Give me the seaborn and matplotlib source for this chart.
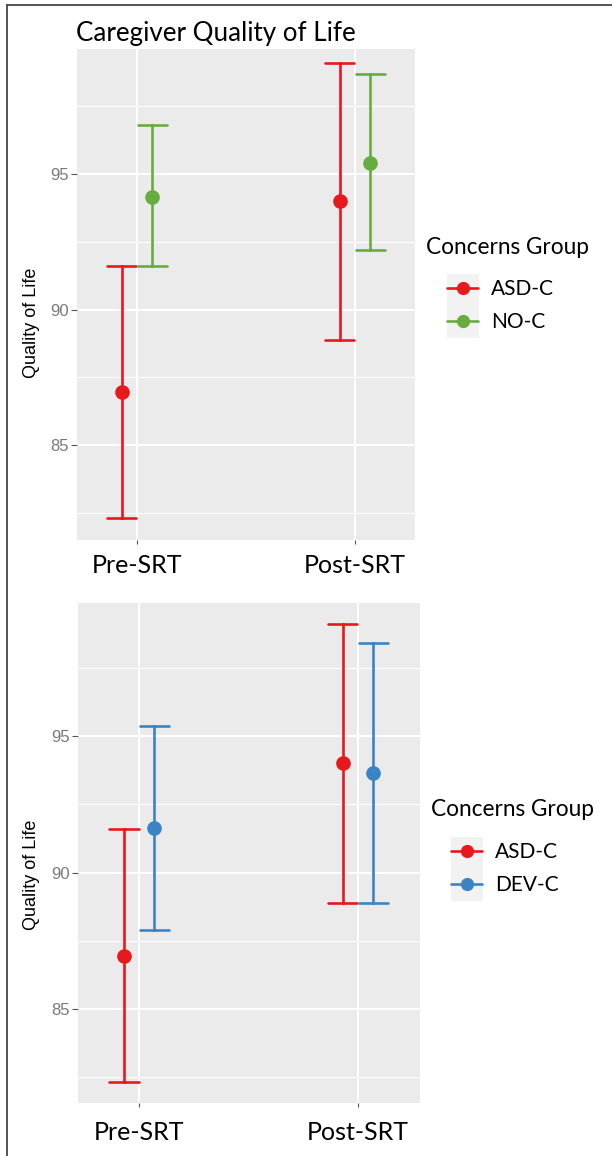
import numpy as np
import pandas as pd
import matplotlib
matplotlib.use("Agg")
import matplotlib.pyplot as plt
from matplotlib.lines import Line2D
from matplotlib.patches import Rectangle
import seaborn as sns

# ---------------- data ----------------
times = ["Pre-SRT", "Post-SRT"]

asd_mean = [86.95, 94.0]
asd_lo = [82.33, 88.87]
asd_hi = [91.6, 99.1]

noc_mean = [94.17, 95.43]
noc_lo = [91.6, 92.2]
noc_hi = [96.8, 98.68]

devc_mean = [91.62, 93.66]
devc_lo = [87.89, 88.87]
devc_hi = [95.37, 98.42]

groups_top = ["ASD-C", "NO-C"]
groups_bottom = ["ASD-C", "DEV-C"]
colors_top = ["#E8191C", "#67AC3F"]
colors_bottom = ["#E8191C", "#3B84C4"]
yticks = [85, 90, 95]

title = "Caregiver Quality of Life"
ylabel = "Quality of Life"
legend_title = "Concerns Group"


def long_table(groups, means, los, his):
    rows = []
    for g, m, lo, hi in zip(groups, means, los, his):
        for t, a, b, c in zip(times, lo, m, hi):
            for v in (a, b, c):
                rows.append({"time": t, "group": g, "qol": v})
    return pd.DataFrame(rows)


df_top = long_table(groups_top, [asd_mean, noc_mean], [asd_lo, noc_lo], [asd_hi, noc_hi])
df_bot = long_table(groups_bottom, [asd_mean, devc_mean], [asd_lo, devc_lo], [asd_hi, devc_hi])

# ---------------- style ----------------
sns.set_theme(style="darkgrid", rc={
    "axes.facecolor": "#EBEBEB",
    "grid.color": "white",
    "axes.edgecolor": "#EBEBEB",
    "text.color": "black",
})
plt.rcParams["font.family"] = ["Lato", "DejaVu Sans"]

W, H = 612, 1156
fig = plt.figure(figsize=(W / 100, H / 100), dpi=100)


def fx(px):
    return px / W


def fy(py):
    return 1 - py / H


def panel(df, groups, colors, rect, ylim, xlim, xlab_pad, ylab_y, leg):
    l, t, r, b = rect
    ax = fig.add_axes([fx(l), fy(b), fx(r) - fx(l), fy(t) - fy(b)])
    sns.pointplot(data=df, x="time", y="qol", hue="group", order=times,
                  hue_order=groups, palette=colors, estimator="median",
                  errorbar=lambda v: (v.min(), v.max()), dodge=0.138,
                  capsize=0.133, linestyle="none", markers="o",
                  markersize=8.5, err_kws={"linewidth": 1.9},
                  legend=False, ax=ax)
    ax.set_ylim(*ylim)
    ax.set_xlim(*xlim)
    ax.set_yticks(yticks)
    ax.set_yticks([82.5, 87.5, 92.5, 97.5], minor=True)
    ax.grid(True, which="major", color="white", linewidth=1.4)
    ax.grid(True, which="minor", axis="y", color="white", linewidth=0.7)
    ax.set_axisbelow(True)
    for s in ax.spines.values():
        s.set_visible(False)
    ax.tick_params(axis="y", which="major", left=True, length=4, width=0.8,
                   color="#555555", pad=2, labelsize=12, labelcolor="#7a7a7a")
    ax.tick_params(axis="y", which="minor", left=False)
    ax.tick_params(axis="x", bottom=True, length=3, width=0.8, color="#555555",
                   pad=xlab_pad, labelsize=18, labelcolor="black")
    for lab in ax.get_yticklabels():
        lab.set_fontfamily(["Liberation Sans", "DejaVu Sans"])
    ax.set_xlabel("")
    ax.set_ylabel(ylabel, fontsize=13, color="black",
                  fontfamily=["Liberation Sans", "DejaVu Sans"])
    ax.yaxis.set_label_coords((40 - l) / (r - l), (b - ylab_y) / (b - t))

    # legend
    lt_x, lt_y, key_x, key_y0 = leg
    fig.text(fx(lt_x), fy(lt_y), legend_title, fontsize=16.3, va="center",
             ha="left", color="black")
    fig.patches.append(Rectangle((fx(key_x), fy(key_y0 + 64)), fx(32), 64 / H,
                                 transform=fig.transFigure, facecolor="#F2F2F2",
                                 edgecolor="none", zorder=-5))
    handles = [Line2D([], [], color=c, marker="o", markersize=8.5, linewidth=1.9)
               for c in colors]
    leg_obj = ax.legend(handles, groups, loc="upper left", frameon=False,
                        bbox_to_anchor=(fx(key_x), fy(key_y0 + 5)),
                        bbox_transform=fig.transFigure, fontsize=15,
                        handlelength=1.5, handletextpad=0.6, labelspacing=0.62,
                        borderpad=0, borderaxespad=0)
    for txt in leg_obj.get_texts():
        txt.set_color("black")
    return ax


ax1 = panel(df_top, groups_top, colors_top, (77, 49, 415, 540), (81.5, 99.62),
            (-0.275, 1.275), 7, 323, (426, 248, 447, 274))
ax2 = panel(df_bot, groups_bottom, colors_bottom, (78, 603, 420, 1103),
            (81.56, 99.88), (-0.279, 1.283), 10, 875, (431, 809, 451, 837))

fig.text(fx(76), fy(41), title, fontsize=18.7, ha="left", va="baseline",
         color="black")

# outer frame (top and left edges visible in the picture)
fig.add_artist(Line2D([fx(7), 1], [fy(5), fy(5)], transform=fig.transFigure,
                      color="#444444", linewidth=1.3))
fig.add_artist(Line2D([fx(7), fx(7)], [fy(5), 0], transform=fig.transFigure,
                      color="#444444", linewidth=1.3))

fig.savefig("out.png", dpi=100)
